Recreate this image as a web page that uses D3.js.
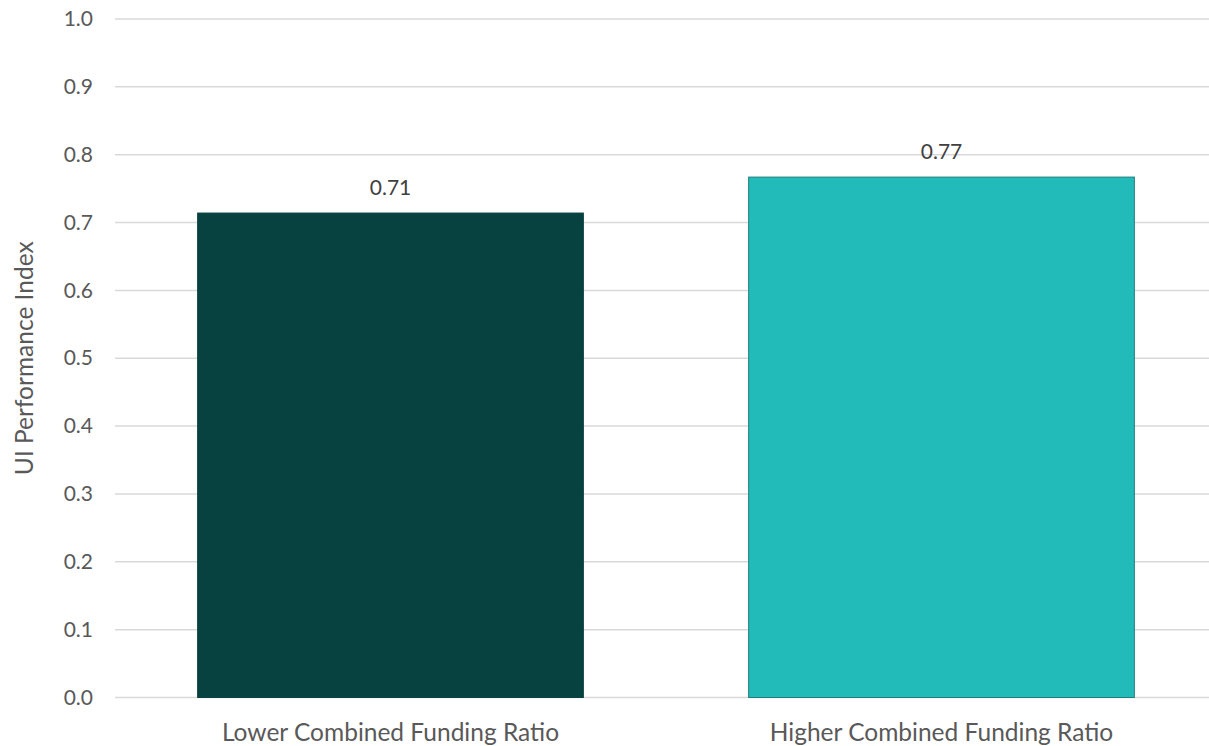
<!DOCTYPE html>
<html>
<head>
<meta charset="utf-8">
<script src="https://cdn.jsdelivr.net/npm/d3@7"></script>
<style>
  html, body { margin: 0; padding: 0; background: #fff; }
  svg text { font-family: Lato, "Open Sans", "Noto Sans", sans-serif; fill: #595959; }
</style>
</head>
<body>
<svg id="chart" width="1209" height="746"></svg>
<script>
// Categories and values
const categories = ["Lower Combined Funding Ratio", "Higher Combined Funding Ratio"];
const values = [0.714, 0.767];
const barColors = ["#074140", "#23BBB9"];
const barStrokes = ["#074140", "#1E7F7D"];
const yTicks = [0, 0.1, 0.2, 0.3, 0.4, 0.5, 0.6, 0.7, 0.8, 0.9, 1.0];
const yTitle = "UI Performance Index";

const svg = d3.select("#chart");
const margin = { left: 115, right: -8, top: 19, bottom: 48.5 };
const width = 1209, height = 746;

const x = d3.scaleBand()
  .domain(categories)
  .range([margin.left, width - margin.right])
  .paddingInner(0.3)
  .paddingOuter(0.15);

const y = d3.scaleLinear()
  .domain([0, 1])
  .range([height - margin.bottom, margin.top]);

// Gridlines
svg.append("g")
  .selectAll("line")
  .data(yTicks)
  .join("line")
  .attr("x1", margin.left)
  .attr("x2", width)
  .attr("y1", d => y(d))
  .attr("y2", d => y(d))
  .attr("stroke", "#D9D9D9")
  .attr("stroke-width", 1.5);

// Y axis labels
const yAxis = d3.axisLeft(y).tickValues(yTicks).tickFormat(d3.format(".1f")).tickSize(0).tickPadding(0);
const yg = svg.append("g").attr("transform", `translate(93,0)`).call(yAxis);
yg.select(".domain").remove();
yg.selectAll("text").attr("font-size", 21).style("font-family", null);

// Bars
svg.append("g")
  .selectAll("rect")
  .data(values)
  .join("rect")
  .attr("x", (d, i) => x(categories[i]))
  .attr("width", x.bandwidth())
  .attr("y", d => y(d))
  .attr("height", d => y(0) - y(d))
  .attr("fill", (d, i) => barColors[i])
  .attr("stroke", (d, i) => barStrokes[i])
  .attr("stroke-width", 1);

// Value labels
svg.append("g")
  .selectAll("text")
  .data(values)
  .join("text")
  .attr("x", (d, i) => x(categories[i]) + x.bandwidth() / 2)
  .attr("y", d => y(d) - 18)
  .attr("text-anchor", "middle")
  .attr("font-size", 21)
  .style("fill", "#404040")
  .text(d => d3.format(".2f")(d));

// X axis labels
const xAxis = d3.axisBottom(x).tickSize(0).tickPadding(0);
const xg = svg.append("g").attr("transform", `translate(0,741)`).call(xAxis);
xg.select(".domain").remove();
xg.selectAll("text").attr("font-size", 24.5).attr("y", 0).attr("dy", 0).style("font-family", null);

// Y axis title
svg.append("text")
  .attr("transform", `translate(33,${(y(0) + y(1)) / 2}) rotate(-90)`)
  .attr("text-anchor", "middle")
  .attr("font-size", 24.5)
  .text(yTitle);
</script>
</body>
</html>
